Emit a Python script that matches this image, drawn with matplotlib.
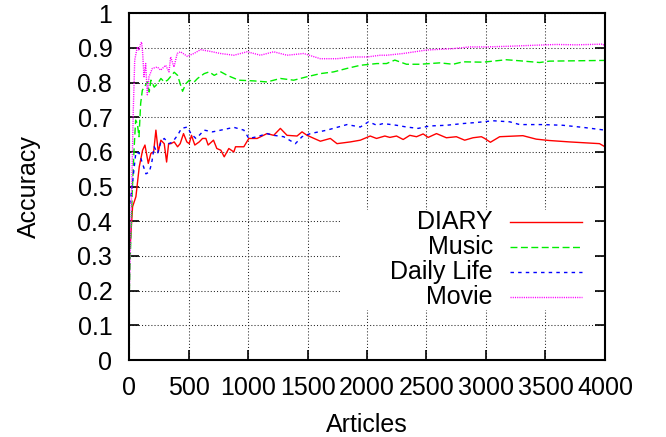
import matplotlib
matplotlib.use("Agg")
import matplotlib.pyplot as plt
from matplotlib.patches import Rectangle

plt.rcParams['font.family'] = ['Liberation Sans', 'DejaVu Sans']

# DIARY
diary_x = [11, 30, 58, 86, 114, 134, 162, 184, 207, 226,
           246, 268, 296, 316, 333, 352, 380, 408, 430, 458,
           486, 506, 525, 553, 590, 618, 646, 665, 710, 738,
           772, 800, 839, 881, 895, 965, 1007, 1077, 1160, 1216,
           1272, 1328, 1412, 1454, 1496, 1608, 1692, 1748, 1860, 1944,
           2027, 2080, 2150, 2192, 2248, 2304, 2360, 2416, 2472, 2514,
           2584, 2667, 2751, 2821, 2891, 2961, 2989, 3037, 3115, 3310,
           3422, 3534, 3702, 3954, 4000]
diary_y = [0.336, 0.442, 0.471, 0.557, 0.605, 0.620, 0.567, 0.596, 0.600, 0.663,
           0.600, 0.634, 0.624, 0.571, 0.624, 0.624, 0.629, 0.615, 0.624, 0.653,
           0.629, 0.624, 0.648, 0.620, 0.629, 0.639, 0.639, 0.620, 0.634, 0.610,
           0.605, 0.586, 0.610, 0.600, 0.615, 0.615, 0.639, 0.639, 0.653, 0.648,
           0.668, 0.648, 0.646, 0.658, 0.648, 0.631, 0.639, 0.624, 0.629, 0.634,
           0.646, 0.639, 0.646, 0.642, 0.646, 0.636, 0.648, 0.644, 0.652, 0.642,
           0.653, 0.641, 0.644, 0.634, 0.641, 0.644, 0.639, 0.628, 0.644, 0.647,
           0.637, 0.633, 0.629, 0.624, 0.615]

# Music
music_x = [3, 14, 28, 42, 56, 70, 84, 98, 112, 128,
           156, 170, 184, 212, 240, 268, 296, 324, 380, 408,
           450, 478, 506, 548, 576, 632, 674, 716, 772, 825,
           923, 1049, 1160, 1272, 1384, 1496, 1608, 1720, 1832, 1944,
           2083, 2164, 2234, 2332, 2444, 2612, 2723, 2807, 2975, 3171,
           3283, 3450, 3534, 3758, 3982, 4000]
music_y = [0.20, 0.336, 0.49, 0.605, 0.692, 0.682, 0.644, 0.74, 0.778, 0.787,
           0.802, 0.773, 0.807, 0.787, 0.797, 0.812, 0.802, 0.807, 0.830, 0.821,
           0.775, 0.797, 0.807, 0.802, 0.812, 0.826, 0.831, 0.821, 0.831, 0.821,
           0.807, 0.805, 0.802, 0.812, 0.807, 0.817, 0.826, 0.831, 0.841, 0.850,
           0.855, 0.855, 0.865, 0.853, 0.853, 0.857, 0.853, 0.860, 0.859, 0.866,
           0.863, 0.858, 0.862, 0.863, 0.864, 0.864]

# Daily Life
daily_x = [5, 16, 58, 86, 114, 142, 170, 190, 212, 240,
           268, 296, 338, 366, 408, 441, 492, 520, 562, 590,
           632, 702, 772, 881, 965, 1007, 1077, 1160, 1216, 1300,
           1398, 1454, 1524, 1664, 1832, 1944, 2013, 2083, 2136, 2248,
           2332, 2430, 2528, 2667, 2807, 2919, 3059, 3199, 3283, 3478,
           3646, 3814, 4000]
daily_y = [0.45, 0.471, 0.600, 0.596, 0.566, 0.537, 0.542, 0.567, 0.615, 0.596,
           0.629, 0.639, 0.624, 0.629, 0.648, 0.668, 0.672, 0.653, 0.639, 0.648,
           0.663, 0.658, 0.663, 0.671, 0.663, 0.639, 0.644, 0.653, 0.648, 0.644,
           0.624, 0.644, 0.653, 0.663, 0.679, 0.672, 0.687, 0.677, 0.682, 0.677,
           0.672, 0.668, 0.675, 0.677, 0.682, 0.685, 0.690, 0.687, 0.679, 0.679,
           0.677, 0.671, 0.663]

# Movie
movie_x = [3, 20, 36, 48, 70, 84, 98, 106, 115, 126,
           140, 154, 168, 196, 238, 266, 308, 336, 350, 378,
           405, 433, 489, 545, 601, 685, 769, 881, 993, 1105,
           1216, 1328, 1468, 1608, 1748, 1888, 2000, 2111, 2164, 2304,
           2500, 2723, 2863, 3003, 3199, 3422, 3590, 3758, 3982, 4000]
movie_y = [0.20, 0.45, 0.72, 0.865, 0.903, 0.893, 0.913, 0.917, 0.884, 0.817,
           0.855, 0.765, 0.817, 0.841, 0.845, 0.836, 0.850, 0.831, 0.874, 0.845,
           0.884, 0.889, 0.876, 0.884, 0.895, 0.890, 0.884, 0.879, 0.889, 0.879,
           0.889, 0.879, 0.884, 0.869, 0.869, 0.874, 0.874, 0.879, 0.879, 0.884,
           0.894, 0.898, 0.903, 0.903, 0.905, 0.908, 0.910, 0.909, 0.911, 0.905]

labels = ["DIARY", "Music", "Daily Life", "Movie"]
colors = ["#ff0000", "#00ee00", "#0000ff", "#ff00ff"]
styles = ["-", (0, (5, 2.5)), (0, (2.5, 3)), (0, (0.8, 0.8))]

x_ticks = [0, 500, 1000, 1500, 2000, 2500, 3000, 3500, 4000]
y_ticks = [0, 0.1, 0.2, 0.3, 0.4, 0.5, 0.6, 0.7, 0.8, 0.9, 1]
y_ticklabels = ["0", "0.1", "0.2", "0.3", "0.4", "0.5", "0.6", "0.7", "0.8", "0.9", "1"]

fs = 18

fig = plt.figure(figsize=(6.66, 4.37), dpi=100)
ax = fig.add_axes([0.1937, 0.1762, 0.7147, 0.7934])

series = [(diary_x, diary_y), (music_x, music_y), (daily_x, daily_y), (movie_x, movie_y)]
for (xs, ys), lab, c, ls in zip(series, labels, colors, styles):
    ax.plot(xs, ys, color=c, linestyle=ls, linewidth=1.0, zorder=2)

ax.set_xlim(0, 4000)
ax.set_ylim(0, 1)
ax.set_xticks(x_ticks)
ax.set_yticks(y_ticks)
ax.set_yticklabels(y_ticklabels)
ax.set_axisbelow(True)
ax.grid(True, color="0.15", linestyle=(0, (1, 2)), linewidth=0.75)
ax.tick_params(direction="in", length=7.5, width=1.2, top=True, right=True,
               labelsize=fs)
ax.tick_params(axis="x", pad=11.5)
ax.tick_params(axis="y", pad=12)
for sp in ax.spines.values():
    sp.set_linewidth(1.5)

ax.set_xlabel("Articles", fontsize=fs)
ax.set_ylabel("Accuracy", fontsize=fs)
ax.xaxis.set_label_coords(0.5, -0.152)
ax.yaxis.set_label_coords(-0.185, 0.5)

# key box (gnuplot style: masks the grid)
ax.add_patch(Rectangle((0.4475, 0.144), 0.5275, 0.289, transform=ax.transAxes,
                       facecolor="white", edgecolor="none", zorder=1))
key_y = [0.398, 0.326, 0.254, 0.182]
for lab, c, ls, yy in zip(labels, colors, styles, key_y):
    ax.plot([0.800, 0.952], [yy, yy], transform=ax.transAxes, color=c,
            linestyle=ls, linewidth=1.0, zorder=3)
    ax.text(0.7647, yy, lab, transform=ax.transAxes, ha="right", va="center",
            fontsize=fs, zorder=3)

fig.savefig("out.png", dpi=100)
